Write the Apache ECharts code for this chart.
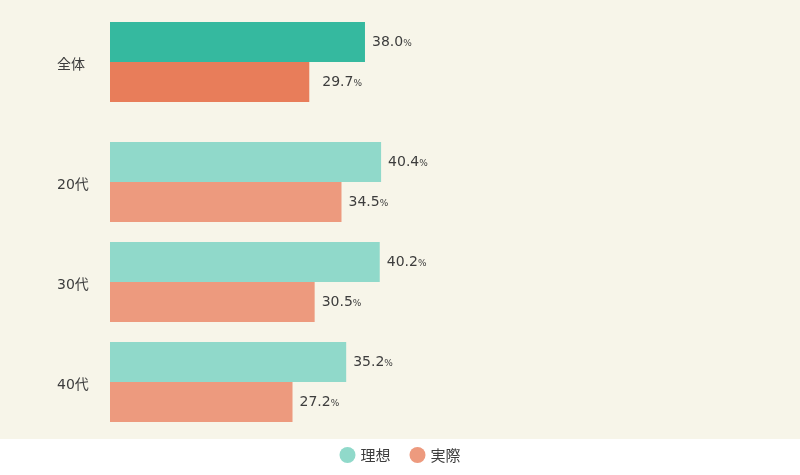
<!DOCTYPE html>
<html>
<head>
<meta charset="utf-8">
<script src="https://cdn.jsdelivr.net/npm/echarts@6/dist/echarts.min.js"></script>
<style>
html,body{margin:0;padding:0;background:#f7f5e9;}
#chart{width:800px;height:475px;}
</style>
</head>
<body>
<div id="chart"></div>
<script>
// 全体
var totalCats = ['全体'];
var totalIdeal = [38.0];
var totalActual = [29.7];
// 年代別
var ageCats = ['20代', '30代', '40代'];
var ageIdeal = [40.4, 40.2, 35.2];
var ageActual = [34.5, 30.5, 27.2];

var FONT = '"Noto Sans CJK JP", "Noto Sans", sans-serif';
var NUMFONT = '"DejaVu Sans", "Noto Sans CJK JP", sans-serif';

function pctLabel(extra){
    var lab = {
        show: true,
        position: 'right',
        distance: 7,
        formatter: function(p){ return '{a|' + p.value.toFixed(1) + '}{b|%}'; },
        rich: {
            a: {fontSize: 14, color: '#3d3d3d', fontFamily: NUMFONT},
            b: {fontSize: 9, color: '#3d3d3d', fontFamily: NUMFONT, padding: [3, 0, 0, 0]}
        }
    };
    if (extra) lab.distance = extra;
    return lab;
}

function catAxis(idx, cats){
    return {
        type: 'category',
        gridIndex: idx,
        data: cats,
        inverse: true,
        axisLine: {show: false},
        axisTick: {show: false},
        axisLabel: {
            align: 'left', margin: 53, color: '#3d3d3d', fontSize: 14,
            fontFamily: NUMFONT, lineHeight: 6, verticalAlign: 'top'
        }
    };
}

var chart = echarts.init(document.getElementById('chart'));
var option = {
    backgroundColor: '#f7f5e9',
    textStyle: {fontFamily: FONT},
    animation: false,
    graphic: [{
        type: 'rect',
        shape: {x: 0, y: 439, width: 800, height: 36},
        style: {fill: '#ffffff'},
        z: -1
    }],
    legend: {
        bottom: 7,
        left: 'center',
        icon: 'circle',
        itemWidth: 16,
        itemHeight: 16,
        itemGap: 19,
        textStyle: {fontSize: 15, color: '#3d3d3d', fontFamily: FONT},
        data: [
            {name: '理想', itemStyle: {color: '#90d9ca'}},
            {name: '実際', itemStyle: {color: '#ed9a7e'}}
        ]
    },
    grid: [
        {left: 110, top: 12, height: 100, right: 19},
        {left: 110, top: 132, height: 300, right: 19}
    ],
    xAxis: [
        {type: 'value', gridIndex: 0, min: 0, max: 100, show: false},
        {type: 'value', gridIndex: 1, min: 0, max: 100, show: false}
    ],
    yAxis: [catAxis(0, totalCats), catAxis(1, ageCats)],
    series: [
        {
            name: '理想', type: 'bar', xAxisIndex: 0, yAxisIndex: 0,
            data: totalIdeal, barWidth: 40, barGap: '0%',
            itemStyle: {color: '#35b99f'},
            label: pctLabel()
        },
        {
            name: '実際', type: 'bar', xAxisIndex: 0, yAxisIndex: 0,
            data: totalActual, barWidth: 40, barGap: '0%',
            itemStyle: {color: '#e87d5a'},
            label: pctLabel(13)
        },
        {
            name: '理想', type: 'bar', xAxisIndex: 1, yAxisIndex: 1,
            data: ageIdeal, barWidth: 40, barGap: '0%',
            itemStyle: {color: '#90d9ca'},
            label: pctLabel()
        },
        {
            name: '実際', type: 'bar', xAxisIndex: 1, yAxisIndex: 1,
            data: ageActual, barWidth: 40, barGap: '0%',
            itemStyle: {color: '#ed9a7e'},
            label: pctLabel()
        }
    ]
};
chart.setOption(option);
</script>
</body>
</html>
